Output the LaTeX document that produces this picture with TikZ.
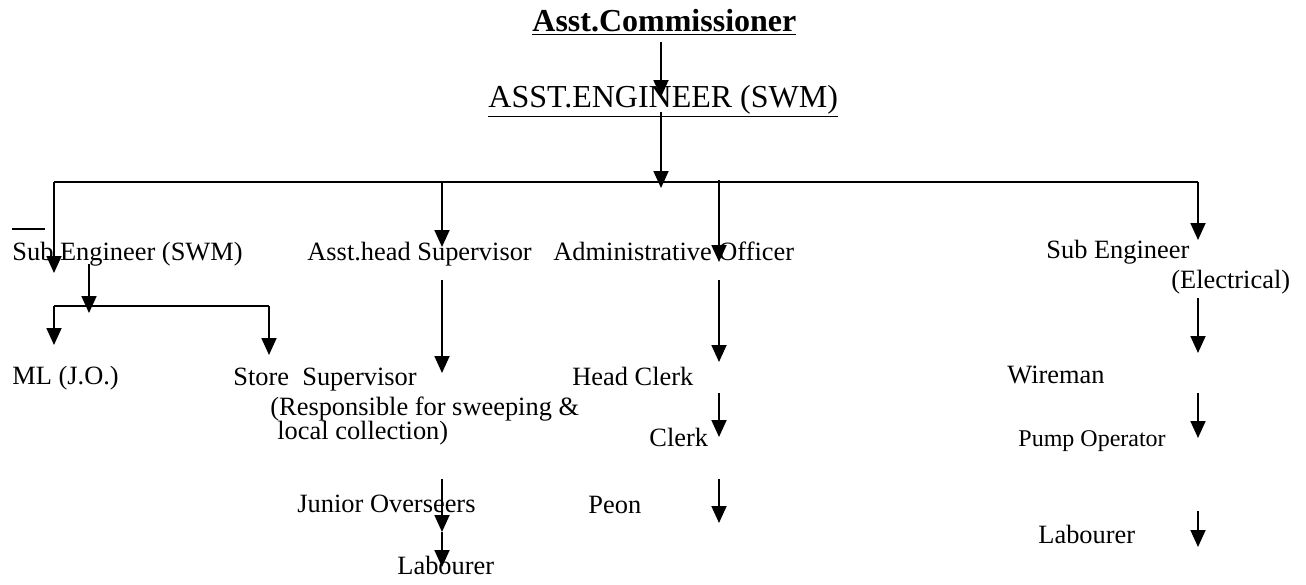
\documentclass[tikz,border=0pt]{standalone}
\usepackage{fontspec}
\setmainfont{Liberation Serif}
\usetikzlibrary{arrows.meta}
\tikzset{
  post/.style={-{Triangle[length=8.5pt,width=7.5pt]}, line width=0.9pt},
  bar/.style={line width=0.9pt},
  lbl/.style={anchor=base west, inner sep=0pt, font=\fontsize{13.2}{15}\selectfont},
  big/.style={lbl, font=\fontsize{16}{19}\selectfont},
  small/.style={lbl, font=\fontsize{12}{14}\selectfont},
}
\begin{document}
\begin{tikzpicture}[x=0.5pt, y=-0.5pt]
        \useasboundingbox (0,0) rectangle (1306,584);
        % heads
        \node[big] (comm) at (532,31) {\underline{\textbf{Asst.Commissioner}}};
        \node[big] (ae) at (488,107) {\underline{ASST.ENGINEER (SWM)}};
        % second level
        \node[lbl] (seswm) at (12,260) {Sub Engineer (SWM)};
        \node[lbl] (ahs) at (307,260) {Asst.head Supervisor};
        \node[lbl] (ao) at (553,260) {Administrative Officer};
        \node[lbl] (seel) at (1046,258) {Sub Engineer};
        \node[lbl] (seelb) at (1171,288) {(Electrical)};
        % third level and below
        \node[lbl] (ml) at (12,384) {ML (J.O.)};
        \node[lbl] (ss) at (233,385) {Store\ \ Supervisor};
        \node[lbl] (ssa) at (270,415) {(Responsible for sweeping \&};
        \node[lbl] (ssb) at (277,439) {local collection)};
        \node[lbl] (jo) at (297,512) {Junior Overseers};
        \node[lbl] (lab) at (397,574) {Labourer};
        \node[lbl] (hc) at (572,385) {Head Clerk};
        \node[lbl] (clerk) at (649,446) {Clerk};
        \node[lbl] (peon) at (588,513) {Peon};
        \node[lbl] (wire) at (1007,383) {Wireman};
        \node[small] (pump) at (1018,446) {Pump Operator};
        \node[lbl] (labe) at (1038,543) {Labourer};

        % connector ends
        \coordinate (c1) at (661,42);   \coordinate (c2) at (661,97);
        \coordinate (a1) at (661,112);  \coordinate (a2) at (661,188);
        \coordinate (bl) at (54,182);   \coordinate (br) at (1198,182);
        \coordinate (d1) at (54,273);
        \coordinate (h0) at (442,182);  \coordinate (h1) at (442,247);
        \coordinate (o0) at (719,180);  \coordinate (o1) at (719,262);
        \coordinate (e1) at (1198,240);
        \coordinate (s0) at (89,264);   \coordinate (s1) at (89,313);
        \coordinate (sl) at (54,306);   \coordinate (sr) at (269,306);
        \coordinate (m1) at (54,345);   \coordinate (t1) at (269,355);
        \coordinate (h2) at (442,280);  \coordinate (h3) at (442,373);
        \coordinate (h4) at (442,479);  \coordinate (h5) at (442,532);
        \coordinate (h6) at (442,567);
        \coordinate (o2) at (719,280);  \coordinate (o3) at (719,362);
        \coordinate (o4) at (719,393);  \coordinate (o5) at (719,437);
        \coordinate (o6) at (719,479);  \coordinate (o7) at (719,523);
        \coordinate (e2) at (1198,298); \coordinate (e3) at (1198,353);
        \coordinate (e4) at (1198,393); \coordinate (e5) at (1198,438);
        \coordinate (e6) at (1198,511); \coordinate (e7) at (1198,547);

        \draw[post] (c1) -- (c2);
        \draw[post] (a1) -- (a2);
        \draw[bar] (bl) -- (br);
        \draw[post] (bl) -- (d1);
        \draw[post] (h0) -- (h1);
        \draw[post] (o0) -- (o1);
        \draw[post] (br) -- (e1);
        \draw[bar] (12,229) -- (45,229);
        \draw[post] (s0) -- (s1);
        \draw[bar] (sl) -- (sr);
        \draw[post] (sl) -- (m1);
        \draw[post] (sr) -- (t1);
        \draw[post] (h2) -- (h3);
        \draw[post] (h4) -- (h5);
        \draw[post] (h5) -- (h6);
        \draw[post] (o2) -- (o3);
        \draw[post] (o4) -- (o5);
        \draw[post] (o6) -- (o7);
        \draw[post] (e2) -- (e3);
        \draw[post] (e4) -- (e5);
        \draw[post] (e6) -- (e7);
    \end{tikzpicture}
\end{document}
